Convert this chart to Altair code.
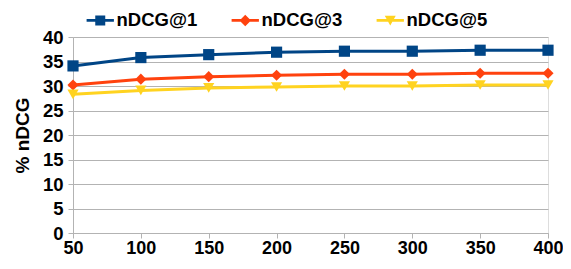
import altair as alt
import pandas as pd

x_values = [50, 100, 150, 200, 250, 300, 350, 400]
series_names = ["nDCG@1", "nDCG@3", "nDCG@5"]
ndcg1 = [34.1, 35.8, 36.4, 36.9, 37.1, 37.1, 37.3, 37.3]
ndcg3 = [30.2, 31.4, 31.9, 32.2, 32.4, 32.4, 32.6, 32.6]
ndcg5 = [28.3, 29.1, 29.6, 29.8, 30.0, 30.0, 30.2, 30.2]
colors = ["#004586", "#ff420e", "#ffd320"]

rows = []
for name, vals in zip(series_names, [ndcg1, ndcg3, ndcg5]):
    for xv, yv in zip(x_values, vals):
        rows.append({"x": xv, "y": yv, "series": name})
df = pd.DataFrame(rows)

FONT = "Liberation Sans"

xenc = alt.X("x:Q", scale=alt.Scale(domain=[50, 400], nice=False, zero=False),
             axis=alt.Axis(values=x_values, title=None, grid=False, labelFontSize=18,
                           labelFontWeight="bold", labelColor="#000", domainColor="#b3b3b3",
                           tickColor="#b3b3b3", tickSize=5, labelPadding=1, labelFlush=False))
yenc = alt.Y("y:Q", scale=alt.Scale(domain=[0, 40], nice=False),
             axis=alt.Axis(values=[0, 5, 10, 15, 20, 25, 30, 35, 40], title="% nDCG",
                           titleFontSize=19, titleFontWeight="bold", titleColor="#000",
                           titlePadding=10, labelFontSize=18.5, labelFontWeight="bold",
                           labelColor="#000", gridColor="#b3b3b3", domainColor="#b3b3b3",
                           tickColor="#b3b3b3", tickSize=5, labelPadding=5))

color_scale = alt.Scale(domain=series_names, range=colors)

line = alt.Chart(df).mark_line(strokeWidth=3).encode(
    x=xenc, y=yenc, color=alt.Color("series:N", scale=color_scale, legend=None)
)

points = alt.Chart(df).mark_point(filled=True, opacity=1, size=125).encode(
    x=xenc, y=yenc,
    color=alt.Color("series:N", scale=color_scale, legend=None),
    shape=alt.Shape("series:N", scale=alt.Scale(domain=series_names,
                                                 range=["square", "diamond", "triangle-down"]),
                    legend=None),
)

bar = "M-2.73,-0.27H2.73V0.27H-2.73Z"
legend_paths = [
    bar + "M-1,-1H1V1H-1Z",
    bar + "M0,-1.15L1.15,0L0,1.15L-1.15,0Z",
    bar + "M-1.1,-0.95L1.1,-0.95L0,1.0Z",
]

legend_opts = dict(title=None, orient="none", legendX=8, legendY=-26,
                   direction="horizontal", columns=3, symbolOpacity=1,
                   labelFontSize=18.5, labelFontWeight="bold",
                   labelColor="#000", symbolOffset=10, labelOffset=7,
                   columnPadding=28, padding=0, symbolStrokeWidth=0)

legend_layer = alt.Chart(df).mark_point(filled=True, opacity=0, size=121).encode(
    x=xenc, y=yenc,
    color=alt.Color("series:N", scale=color_scale, legend=alt.Legend(**legend_opts)),
    shape=alt.Shape("series:N", scale=alt.Scale(domain=series_names, range=legend_paths),
                    legend=alt.Legend(**legend_opts)),
)

chart = alt.layer(line, points, legend_layer).resolve_scale(
    color="independent", shape="independent"
).properties(
    width=475, height=196,
    autosize=alt.AutoSizeParams(type="none"),
    padding={"left": 65, "top": 29, "right": 15, "bottom": 28},
).configure_view(stroke="#b3b3b3").configure(font=FONT)

chart.save("out.html", embed_options={"renderer": "svg", "actions": False})
